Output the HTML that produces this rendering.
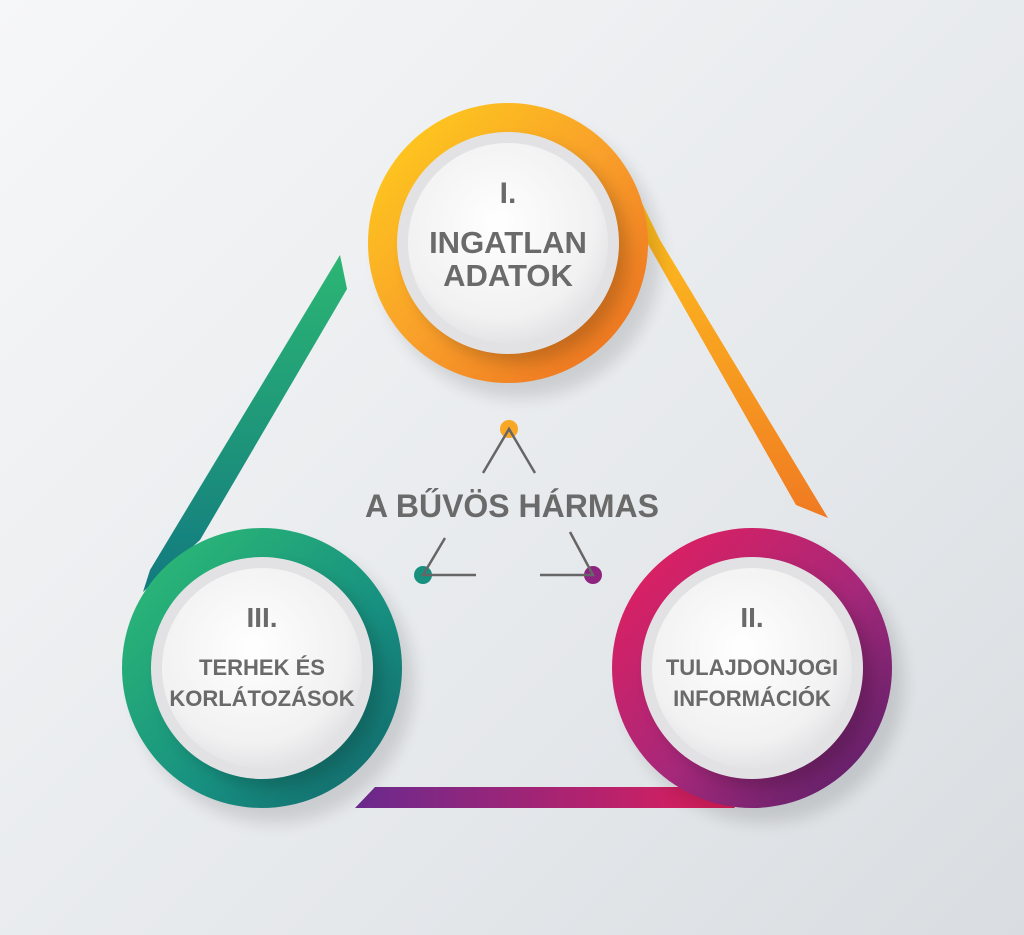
<!DOCTYPE html>
<html><head><meta charset="utf-8"><style>
html,body{margin:0;padding:0;width:1024px;height:935px;overflow:hidden}
body{background:linear-gradient(135deg,#f6f7f8 0%,#e6e9ec 60%,#d9dde1 100%)}
text{font-family:"Liberation Sans",sans-serif;font-weight:bold;fill:#6a6a6a;text-anchor:middle}
</style></head><body>
<svg width="1024" height="935" viewBox="0 0 1024 935" xmlns="http://www.w3.org/2000/svg">
<defs>
<linearGradient id="gO" x1="0" y1="0" x2="1" y2="1"><stop offset="0" stop-color="#ffd21a"/><stop offset="0.5" stop-color="#f9a02a"/><stop offset="1" stop-color="#ea6a1e"/></linearGradient>
<linearGradient id="gOr" x1="0" y1="0" x2="0" y2="1"><stop offset="0" stop-color="#ffc21e"/><stop offset="1" stop-color="#f07a22"/></linearGradient>
<linearGradient id="gG" x1="0" y1="0" x2="1" y2="1"><stop offset="0" stop-color="#2fbf74"/><stop offset="0.6" stop-color="#179080"/><stop offset="1" stop-color="#12636a"/></linearGradient>
<linearGradient id="gGr" x1="0" y1="0" x2="0" y2="1"><stop offset="0" stop-color="#2cb673"/><stop offset="1" stop-color="#127a80"/></linearGradient>
<linearGradient id="gP" x1="0" y1="0" x2="1" y2="1"><stop offset="0" stop-color="#ea1e5c"/><stop offset="0.55" stop-color="#a5287a"/><stop offset="1" stop-color="#4e1f66"/></linearGradient>
<linearGradient id="gPr" x1="0" y1="0" x2="1" y2="0"><stop offset="0" stop-color="#6a2a8e"/><stop offset="1" stop-color="#e01e5a"/></linearGradient>
<radialGradient id="gW" cx="0.45" cy="0.4" r="0.6"><stop offset="0" stop-color="#ffffff"/><stop offset="0.8" stop-color="#f1f1f2"/><stop offset="1" stop-color="#e4e4e6"/></radialGradient>
<filter id="sh" x="-30%" y="-30%" width="160%" height="160%"><feGaussianBlur stdDeviation="8"/></filter>
</defs>
<!-- ribbons -->
<polygon points="340,255 347,289 200,540 143,592 150,570" fill="url(#gGr)"/>
<polygon points="638,195 660,240 828,518 796,505 640,230" fill="url(#gOr)"/>
<polygon points="375,787 720,787 735,808 355,808" fill="url(#gPr)"/>
<!-- shadows -->
<circle cx="520" cy="258" r="140" fill="#000" opacity="0.12" filter="url(#sh)"/>
<circle cx="274" cy="683" r="140" fill="#000" opacity="0.12" filter="url(#sh)"/>
<circle cx="764" cy="683" r="140" fill="#000" opacity="0.12" filter="url(#sh)"/>
<!-- circles -->
<g><circle cx="508" cy="243" r="140" fill="url(#gO)"/>
<circle cx="518" cy="253" r="110" fill="#000" opacity="0.18" filter="url(#sh)"/>
<circle cx="508" cy="243" r="111" fill="#e2e2e4"/><circle cx="508" cy="243" r="100" fill="url(#gW)"/>
<text x="508" y="203" font-size="30">I.</text>
<text x="508" y="253" font-size="31">INGATLAN</text>
<text x="508" y="286" font-size="31">ADATOK</text></g>
<g><circle cx="262" cy="668" r="140" fill="url(#gG)"/>
<circle cx="272" cy="678" r="110" fill="#000" opacity="0.18" filter="url(#sh)"/>
<circle cx="262" cy="668" r="111" fill="#e2e2e4"/><circle cx="262" cy="668" r="100" fill="url(#gW)"/>
<text x="262" y="627" font-size="28">III.</text>
<text x="262" y="675" font-size="22">TERHEK ÉS</text>
<text x="262" y="706" font-size="22">KORLÁTOZÁSOK</text></g>
<g><circle cx="752" cy="668" r="140" fill="url(#gP)"/>
<circle cx="762" cy="678" r="110" fill="#000" opacity="0.18" filter="url(#sh)"/>
<circle cx="752" cy="668" r="111" fill="#e2e2e4"/><circle cx="752" cy="668" r="100" fill="url(#gW)"/>
<text x="752" y="627" font-size="28">II.</text>
<text x="752" y="675" font-size="22">TULAJDONJOGI</text>
<text x="752" y="706" font-size="22">INFORMÁCIÓK</text></g>
<!-- center icon -->
<circle cx="509" cy="429" r="9" fill="#f9a825"/>
<circle cx="423" cy="575" r="9" fill="#179080"/>
<circle cx="593" cy="575" r="9" fill="#8e2480"/>
<g stroke="#666" stroke-width="2.5" fill="none">
<polyline points="483,473 509,429 535,473"/>
<polyline points="445,538 423,575 476,575"/>
<polyline points="570,532 593,575 540,575"/>
</g>
<text x="512" y="517" font-size="32">A BŰVÖS HÁRMAS</text>
</svg>
</body></html>
